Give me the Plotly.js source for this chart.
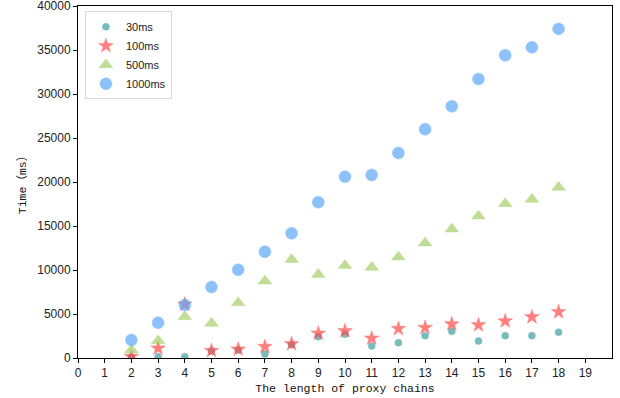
<!DOCTYPE html>
<html><head><meta charset="utf-8">
<script src="https://cdn.plot.ly/plotly-3.0.1.min.js"></script>
<style>html,body{margin:0;padding:0;background:#fff}#c{width:620px;height:398px}</style>
</head><body><div id="c"></div>
<script>
const chainLength = [2,3,4,5,6,7,8,9,10,11,12,13,14,15,16,17,18];
const ms30   = [100,150,150,800,900,450,1500,2420,2690,1360,1740,2540,3030,1930,2540,2540,2920];
const ms100  = [150,1100,6100,830,990,1290,1600,2800,3070,2240,3330,3450,3860,3750,4200,4660,5230];
const ms500  = [900,1970,4700,3940,6280,8750,11200,9500,10500,10300,11480,13070,14660,16140,17540,18030,19400];
const ms1000 = [2050,4000,6020,8070,10030,12080,14170,17700,20600,20800,23300,26000,28600,31700,34400,35300,37400];
const seriesNames = ['30ms','100ms','500ms','1000ms'];
const xTicks = [0,1,2,3,4,5,6,7,8,9,10,11,12,13,14,15,16,17,18,19];
const yTicks = [0,5000,10000,15000,20000,25000,30000,35000,40000];

function tr(name, y, color, symbol, size){
  return {x: chainLength, y: y, name: name, type:'scatter', mode:'markers',
    marker:{color: color, symbol: symbol, size: size, opacity: 0.7, line:{width:0.5, color: color}}};
}
const data = [
  tr(seriesNames[0], ms30, '#3f9f9f', 'circle', 7),
  tr(seriesNames[1], ms100, '#ff4a4a', 'star', 11),
  tr(seriesNames[2], ms500, '#a6d06a', 'triangle-up', 12),
  tr(seriesNames[3], ms1000, '#5ea8f7', 'circle', 12)
];
const layout = {
  width:620, height:398,
  margin:{l:78, r:8, t:6, b:40},
  paper_bgcolor:'#fff', plot_bgcolor:'#fff',
  font:{family:'Liberation Sans, Arial, sans-serif', size:12, color:'#222'},
  showlegend:true,
  legend:{x:0.013, y:0.985, xanchor:'left', yanchor:'top', bgcolor:'#fff',
    bordercolor:'#d8d8d8', borderwidth:1, font:{size:11, color:'#222'}},
  xaxis:{range:[0,20], tickvals:xTicks, ticks:'outside', ticklen:4, tickcolor:'#000',
    showgrid:false, zeroline:false, showline:true, linecolor:'#000', linewidth:1, mirror:true,
    tickfont:{size:12},
    title:{text:'The length of proxy chains', font:{family:'Liberation Mono, DejaVu Sans Mono, monospace', size:11.5, color:'#111'}, standoff:4}},
  yaxis:{range:[0,40000], tickvals:yTicks, ticktext:yTicks.map(String), ticklabeloverflow:'allow',
    ticks:'outside', ticklen:4, tickcolor:'#000',
    showgrid:false, zeroline:false, showline:true, linecolor:'#000', linewidth:1, mirror:true,
    tickfont:{size:12},
    title:{text:'Time（ms）', font:{family:'Liberation Mono, Noto Sans CJK SC, monospace', size:11.5, color:'#111'}, standoff:8}}
};
Plotly.newPlot('c', data, layout, {displayModeBar:false, staticPlot:true});
</script></body></html>
